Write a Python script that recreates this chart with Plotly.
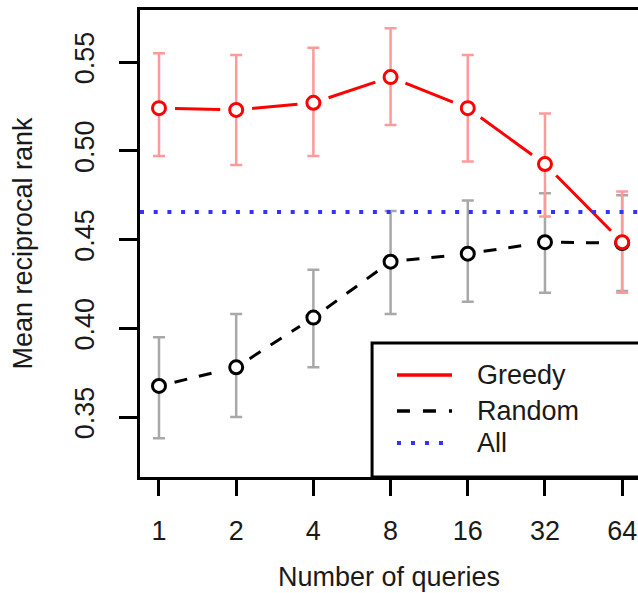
import numpy as np
import plotly.graph_objects as go

# ---- data ----
queries = [1, 2, 4, 8, 16, 32, 64]
tick_labels = ["1", "2", "4", "8", "16", "32", "64"]

greedy_mean = [0.524, 0.523, 0.527, 0.5415, 0.524, 0.4925, 0.4485]
greedy_low = [0.497, 0.492, 0.497, 0.5145, 0.494, 0.463, 0.420]
greedy_high = [0.555, 0.554, 0.558, 0.569, 0.554, 0.521, 0.477]

random_mean = [0.3675, 0.378, 0.406, 0.4375, 0.442, 0.4485, 0.448]
random_low = [0.338, 0.350, 0.378, 0.408, 0.415, 0.420, 0.421]
random_high = [0.395, 0.408, 0.433, 0.466, 0.472, 0.476, 0.475]

all_value = 0.4655

y_ticks = [0.35, 0.40, 0.45, 0.50, 0.55]
y_tick_labels = ["0.35", "0.40", "0.45", "0.50", "0.55"]

series_names = ["Greedy", "Random", "All"]

# ---- styling / layout constants ----
FONT = "Liberation Sans, Arial, sans-serif"
RED = "#ff0000"
RED_ERR = "#ff9a9a"
GRAY_ERR = "#a8a8a8"
BLACK = "#000000"
BLUE = "#3333ff"
FS = 27
W, H = 638, 593
M = dict(l=140, r=0, t=10, b=116)
LOG2 = np.log10(2)
X_RANGE = [-0.246 * LOG2, 6.205 * LOG2]   # log10 units
Y_RANGE = [0.3162, 0.5793]
GAP_PX = 16  # R type="b": line stops short of each point

# scale factors (pixels per axis unit) used only to shorten segments by GAP_PX
px_x = (W - M["l"] - M["r"]) / (X_RANGE[1] - X_RANGE[0])
px_y = (H - M["t"] - M["b"]) / (Y_RANGE[1] - Y_RANGE[0])


def gapped_path(xs, ys):
    lx = np.log10(np.array(xs, dtype=float))
    ys = np.array(ys, dtype=float)
    out_x, out_y = [], []
    for i in range(len(lx) - 1):
        dx = (lx[i + 1] - lx[i]) * px_x
        dy = (ys[i + 1] - ys[i]) * px_y
        t = GAP_PX / np.hypot(dx, dy)
        if t >= 0.5:
            continue
        ax_ = lx[i] + t * (lx[i + 1] - lx[i]); ay = ys[i] + t * (ys[i + 1] - ys[i])
        bx = lx[i + 1] - t * (lx[i + 1] - lx[i]); by = ys[i + 1] - t * (ys[i + 1] - ys[i])
        out_x += [10 ** ax_, 10 ** bx, None]
        out_y += [ay, by, None]
    return out_x, out_y


fig = go.Figure()

# connecting lines with gaps around points
gx, gy = gapped_path(queries, greedy_mean)
fig.add_trace(go.Scatter(x=gx, y=gy, mode="lines", connectgaps=False,
                         line=dict(color=RED, width=3), showlegend=False, hoverinfo="skip"))
rx, ry = gapped_path(queries, random_mean)
fig.add_trace(go.Scatter(x=rx, y=ry, mode="lines", connectgaps=False,
                         line=dict(color=BLACK, width=3, dash="13px,12px"),
                         showlegend=False, hoverinfo="skip"))


# error bars
def err_trace(mean, low, high, color):
    mean = np.array(mean); low = np.array(low); high = np.array(high)
    return go.Scatter(x=queries, y=mean, mode="markers",
                      marker=dict(size=1, color="rgba(0,0,0,0)"),
                      error_y=dict(type="data", symmetric=False,
                                   array=high - mean, arrayminus=mean - low,
                                   color=color, thickness=2.5, width=6),
                      showlegend=False, hoverinfo="skip")


fig.add_trace(err_trace(random_mean, random_low, random_high, GRAY_ERR))
fig.add_trace(err_trace(greedy_mean, greedy_low, greedy_high, RED_ERR))

# point markers
fig.add_trace(go.Scatter(x=queries, y=random_mean, mode="markers", name=series_names[1],
                         marker=dict(symbol="circle", size=13, color="white",
                                     line=dict(color=BLACK, width=3)), showlegend=False))
fig.add_trace(go.Scatter(x=queries, y=greedy_mean, mode="markers", name=series_names[0],
                         marker=dict(symbol="circle", size=13, color="white",
                                     line=dict(color=RED, width=3)), showlegend=False))

# "All" horizontal reference line
fig.add_shape(type="line", xref="paper", x0=0, x1=1, yref="y", y0=all_value, y1=all_value,
              line=dict(color=BLUE, width=4, dash="4px,9.7px"), layer="above")

# ---- manual legend (R style box) ----
fig.add_shape(type="rect", xref="paper", yref="paper", x0=0.466, x1=1.05, y0=0.0, y1=0.287,
              line=dict(color=BLACK, width=3), fillcolor="white", layer="above")
legend_rows = [0.2184, 0.1413, 0.0728]
legend_styles = [dict(color=RED, width=3.5),
                 dict(color=BLACK, width=3.5, dash="13px,13px"),
                 dict(color=BLUE, width=4, dash="4px,10px")]
for name, yy, st in zip(series_names, legend_rows, legend_styles):
    fig.add_shape(type="line", xref="paper", yref="paper", x0=0.516, x1=0.6265, y0=yy, y1=yy,
                  line=st, layer="above")
    fig.add_annotation(xref="paper", yref="paper", x=0.6727, y=yy, text=name, showarrow=False,
                       xanchor="left", yanchor="middle", font=dict(family=FONT, size=FS, color="#1a1a1a"))

fig.update_layout(
    width=W, height=H,
    margin=M,
    paper_bgcolor="white", plot_bgcolor="white",
    showlegend=False,
    font=dict(family=FONT, size=FS, color="#1a1a1a"),
    xaxis=dict(type="log", range=X_RANGE,
               tickvals=queries, ticktext=tick_labels,
               showgrid=False, zeroline=False,
               showline=True, linecolor=BLACK, linewidth=3, mirror=True,
               ticks="outside", ticklen=16, tickwidth=3, tickcolor=BLACK,
               ticklabelstandoff=12,
               title=dict(text="Number of queries", standoff=22,
                          font=dict(family=FONT, size=FS, color="#1a1a1a"))),
    yaxis=dict(range=Y_RANGE, tickvals=y_ticks, ticktext=y_tick_labels,
               tickangle=-90,
               showgrid=False, zeroline=False,
               showline=True, linecolor=BLACK, linewidth=3, mirror=False,
               ticks="outside", ticklen=18, tickwidth=3, tickcolor=BLACK,
               ticklabelstandoff=14,
               title=dict(text="Mean reciprocal rank", standoff=30,
                          font=dict(family=FONT, size=FS, color="#1a1a1a"))),
)

fig.write_html("out.html")
